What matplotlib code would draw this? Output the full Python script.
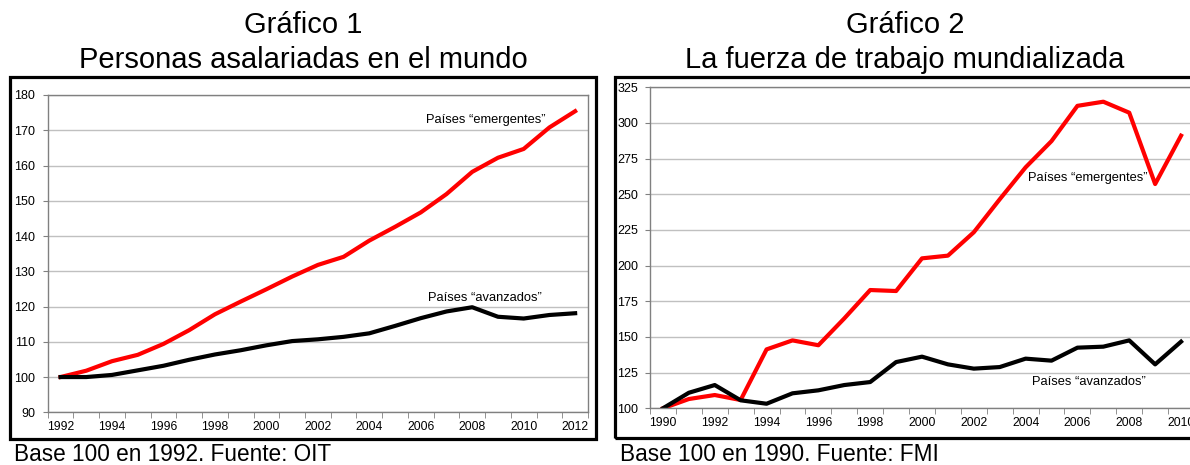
import numpy as np
import matplotlib.pyplot as plt
from matplotlib.patches import Rectangle
from matplotlib.ticker import MultipleLocator

plt.rcParams['font.family'] = ['Liberation Sans', 'DejaVu Sans']

W, H = 1190, 465

# Gráfico 1: personas asalariadas (base 100 en 1992)
years1 = list(range(1992, 2013))
emerg1 = [100, 101.8, 104.5, 106.3, 109.4, 113.3, 117.8, 121.4, 124.9, 128.5, 131.8,
          134.1, 138.7, 142.6, 146.7, 151.9, 158.2, 162.2, 164.7, 170.8, 175.4]
avanz1 = [100, 100.0, 100.6, 101.9, 103.2, 104.9, 106.4, 107.6, 109.0, 110.2, 110.7,
          111.4, 112.4, 114.5, 116.7, 118.6, 119.8, 117.1, 116.6, 117.6, 118.1]

# Gráfico 2: fuerza de trabajo mundializada (base 100 en 1990)
years2 = list(range(1990, 2011))
emerg2 = [100, 106.5, 109.3, 105.8, 141.3, 147.6, 144.2, 163.0, 182.9, 182.2, 205.1,
          207.0, 223.4, 246.5, 268.9, 287.3, 312.0, 314.9, 307.2, 257.2, 291.1]
avanz2 = [100, 110.9, 116.3, 105.6, 103.2, 110.5, 112.6, 116.3, 118.4, 132.4, 136.2,
          130.8, 127.8, 128.9, 134.8, 133.4, 142.5, 143.2, 147.6, 130.8, 146.7]

fig = plt.figure(figsize=(W / 100, H / 100), dpi=100)


def px_axes(left, top, right, bottom):
    return fig.add_axes([left / W, 1 - bottom / H, (right - left) / W, (bottom - top) / H])


def box(left, top, right, bottom):
    fig.patches.append(Rectangle((left / W, 1 - bottom / H), (right - left) / W, (bottom - top) / H,
                                 transform=fig.transFigure, fill=False, ec='black', lw=2.3))


def style(ax, years, ylo, yhi, ystep, ypad):
    ax.set_xlim(years[0] - 0.5, years[-1] + 0.5)
    ax.set_ylim(ylo, yhi)
    ax.yaxis.set_major_locator(MultipleLocator(ystep))
    ax.set_xticks([y for y in years if y % 2 == 0])
    ax.set_xticks([years[0] - 0.5 + i for i in range(len(years) + 1)], minor=True)
    ax.tick_params(axis='x', which='major', length=0, labelsize=8.7, pad=6)
    ax.tick_params(axis='x', which='minor', length=4, color='#808080', direction='out')
    ax.tick_params(axis='y', length=3.6, color='#808080', labelsize=9, pad=ypad)
    for s in ax.spines.values():
        s.set_color('#808080')
        s.set_linewidth(1)
    ax.yaxis.grid(True, color='#c0c0c0', lw=1)
    ax.set_axisbelow(True)


# Gráfico 1
box(10, 77, 596, 439)
ax1 = px_axes(47.7, 95, 588, 412.3)
style(ax1, years1, 90, 180, 10, 5.5)
ax1.plot(years1, emerg1, color='#ff0000', lw=3, solid_joinstyle='round')
ax1.plot(years1, avanz1, color='black', lw=3, solid_joinstyle='round')
ax1.text(2010.85, 172.9, 'Países “emergentes”', fontsize=9.3, ha='right', va='center')
ax1.text(2008.5, 122.4, 'Países “avanzados”', fontsize=9.3, ha='center', va='center')

# Gráfico 2 (se sale por la derecha, como en el original)
box(615, 77, 1196, 438.3)
ax2 = px_axes(650, 87.3, 1194, 408.3)
style(ax2, years2, 100, 325, 25, 5)
ax2.plot(years2, emerg2, color='#ff0000', lw=3)
ax2.plot(years2, avanz2, color='black', lw=3)
ax2.text(2006.4, 261.4, 'Países “emergentes”', fontsize=9.3, ha='center', va='center')
ax2.text(2006.45, 118.4, 'Países “avanzados”', fontsize=9.3, ha='center', va='center')

# Titulos y fuentes
fig.text(303 / W, 1 - 25 / H, 'Gráfico 1', fontsize=21, ha='center', va='center')
fig.text(303 / W, 1 - 60 / H, 'Personas asalariadas en el mundo', fontsize=21, ha='center', va='center')
fig.text(905 / W, 1 - 25 / H, 'Gráfico 2', fontsize=21, ha='center', va='center')
fig.text(905 / W, 1 - 60 / H, 'La fuerza de trabajo mundializada', fontsize=21, ha='center', va='center')
fig.text(14 / W, 1 - 454 / H, 'Base 100 en 1992. Fuente: OIT', fontsize=16.3, ha='left', va='center')
fig.text(620 / W, 1 - 454 / H, 'Base 100 en 1990. Fuente: FMI', fontsize=16.3, ha='left', va='center')

plt.savefig('out.png', dpi=100)
